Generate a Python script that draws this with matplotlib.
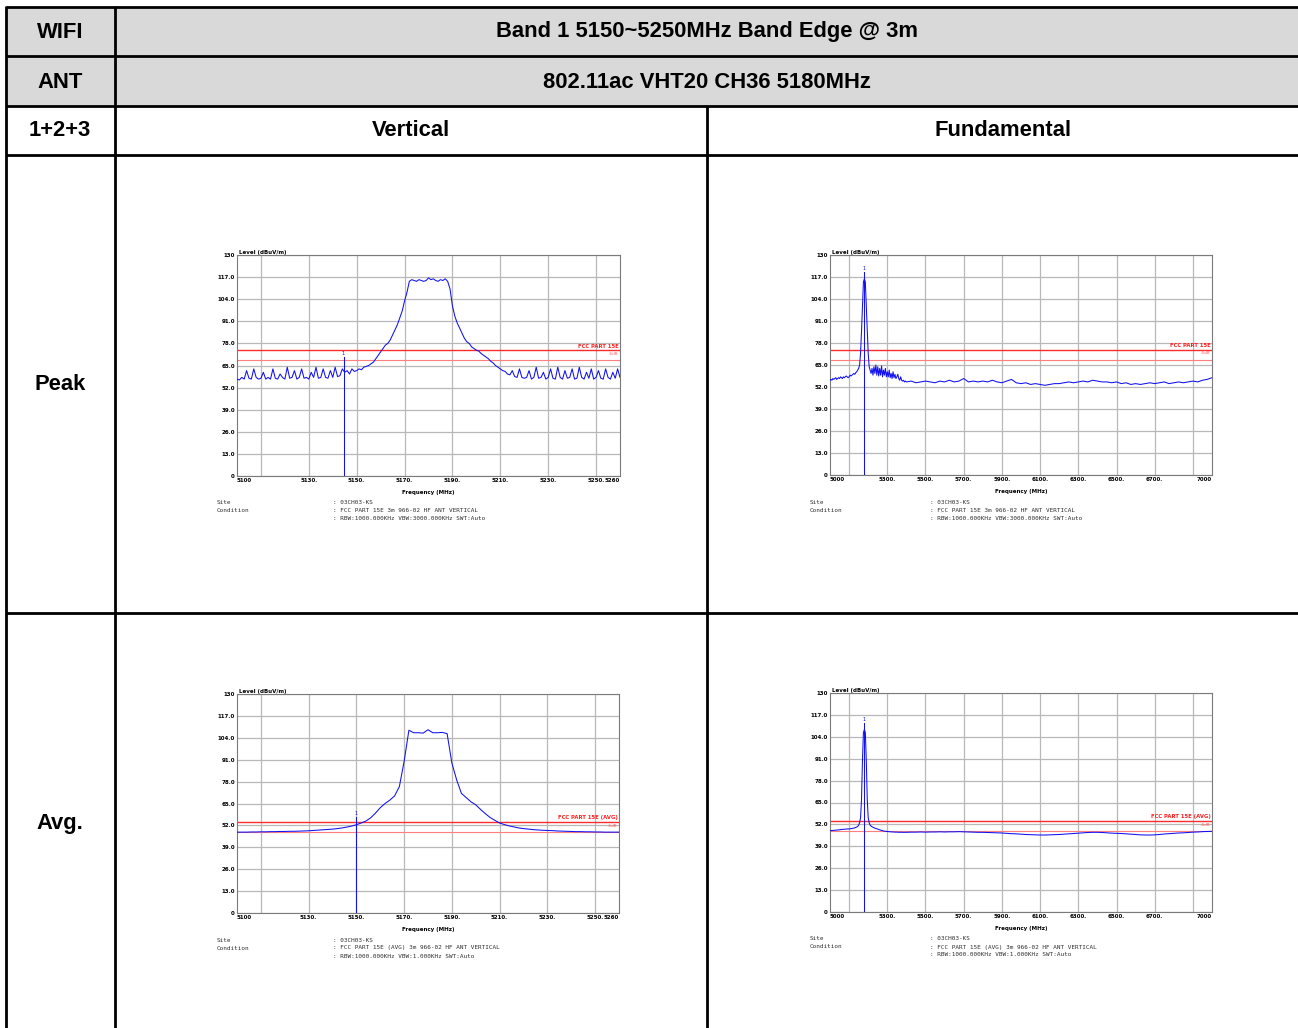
import numpy as np
import matplotlib
matplotlib.use("Agg")
import matplotlib.pyplot as plt

W, H = 1298, 1028

# ---------------- table text ----------------
title_row1 = ["WIFI", "Band 1 5150~5250MHz Band Edge @ 3m"]
title_row2 = ["ANT", "802.11ac VHT20 CH36 5180MHz"]
title_row3 = ["1+2+3", "Vertical", "Fundamental"]
row_labels = ["Peak", "Avg."]

# ---------------- axis definitions ----------------
y_ticks = [0, 13, 26, 39, 52, 65, 78, 91, 104, 117, 130]
y_labels = ["0", "13.0", "26.0", "39.0", "52.0", "65.0", "78.0", "91.0", "104.0", "117.0", "130"]

edge_xlim = [5100, 5260]
edge_grid = [5110, 5130, 5150, 5170, 5190, 5210, 5230, 5250]
edge_ticks = [5100, 5130, 5150, 5170, 5190, 5210, 5230, 5250, 5260]
edge_labels = ["5100", "5130.", "5150.", "5170.", "5190.", "5210.", "5230.", "5250.", "5260"]

fund_xlim = [5000, 7000]
fund_grid = [5100, 5300, 5500, 5700, 5900, 6100, 6300, 6500, 6700, 6900]
fund_ticks = [5000, 5300, 5500, 5700, 5900, 6100, 6300, 6500, 6700, 7000]
fund_labels = ["5000", "5300.", "5500.", "5700.", "5900.", "6100.", "6300.", "6500.", "6700.", "7000"]

# limit lines (dBuV/m)
peak_limit, peak_margin = 74, 68
avg_limit, avg_margin = 54, 48

# ---------------- traces ----------------
# Peak, band edge, 1 MHz step 5100..5260
edge_peak_f = np.arange(5100, 5261, 1)
edge_peak_v = [
    57, 56.5, 58, 57, 62, 57.5, 57, 63, 58, 57,
    57.5, 61, 57, 58, 57, 63, 57.5, 57, 60, 58,
    57, 64, 57.5, 58, 62, 57, 58, 63, 57.5, 58,
    57, 61, 58, 64, 57.5, 58, 63, 58, 57.5, 62,
    58, 64, 58.5, 59, 63,
    61, 62, 60, 63, 61.5,
    62, 63, 62.5, 64, 64.5, 65, 66, 67, 69, 71,
    73, 75, 77, 78, 80, 83, 86, 89, 93, 97,
    103, 108, 114.5, 115.5, 115, 114.5, 115.5, 115, 114.5, 115,
    116.5, 115.5, 116, 115, 114.5, 115.5, 115, 116, 114.5, 110,
    100, 94, 90, 87, 84, 81, 79, 78, 76, 75,
    74, 73.5, 72, 71, 70, 69, 67.5, 66.5, 65, 64,
    63, 62, 61.5, 60, 59.5, 62, 58.5, 58, 63, 58,
    57.5, 58, 62, 57, 58, 64, 57.5, 58, 61, 57,
    58, 63, 57.5, 57, 64, 58, 57, 62, 57.5, 58,
    63, 57, 57.5, 64, 58, 57, 61, 57.5, 63, 57,
    58, 62, 57.5, 57, 63, 58, 57, 61, 57.5, 63, 58,
]
edge_peak_marker = [5144.5, 70]

# Peak, fundamental: 5 MHz step 5000..5395 then 25 MHz step 5400..7000
fund_peak_f = np.concatenate([np.arange(5000, 5400, 5), np.arange(5400, 7001, 25)])
fund_peak_v = [
    56, 56.5, 56, 57, 56.5, 57, 57.5, 56.5, 57, 57.5, 57, 58, 57.5, 57, 58, 57.5, 58, 58.5, 58, 57.5,
    58, 59, 58.5, 59, 59.5, 60, 59.5, 60.5, 61, 62,
    63, 65, 72, 85, 100, 114, 116, 114, 100, 85,
    72, 64, 62, 60, 63, 59, 64, 60, 65, 59,
    64, 58.5, 63, 59, 64.5, 58, 62, 59, 63, 58,
    61, 58, 62, 57.5, 60, 57, 61, 57.5, 59.5, 57,
    58, 59.5, 57, 56, 58, 56, 55.5, 56, 55, 55.5,
    55, 55.5, 54.5, 55, 55.5, 55, 54.5, 55.5,
    55, 56, 55, 55.5, 57, 55, 55.5, 55,
    55.5, 55, 56, 55, 54.5, 55.5, 56.5, 54.5,
    54, 54.5, 53.5, 54, 53.5, 53, 53.5, 54,
    54, 54.5, 55, 54.5, 55, 55.5, 55, 56,
    55.5, 55, 55, 54.5, 55, 54, 54.5, 53.5,
    54, 53.5, 54, 54.5, 54, 54.5, 55, 54,
    54.5, 55, 54.5, 55, 55.5, 55, 56, 56.5,
    57.5,
]
fund_peak_marker = [5180, 120]

# Average, band edge, 2 MHz step 5100..5260
edge_avg_f = np.arange(5100, 5261, 2)
edge_avg_v = [
    48.0, 48.0, 48.0, 48.1, 48.1, 48.2, 48.2, 48.3, 48.3, 48.4,
    48.4, 48.5, 48.5, 48.6, 48.7, 48.8, 49.0, 49.2, 49.4, 49.6,
    49.8, 50.1, 50.5, 51.0, 51.6, 52.4, 53.4, 54.6, 56.5, 59.3,
    62.5, 65.0, 67.0, 69.5, 75.0, 90.0, 108.5, 107.0, 107.0, 106.8,
    108.8, 107.0, 107.0, 107.2, 106.5, 89.0, 79.0, 71.0, 68.5, 66.0,
    64.2, 61.5, 59.0, 56.7, 55.0, 53.4, 52.5, 51.7, 51.1, 50.5,
    50.1, 49.8, 49.5, 49.3, 49.1, 49.0, 48.9, 48.7, 48.6, 48.5,
    48.4, 48.3, 48.3, 48.2, 48.2, 48.1, 48.1, 48.0, 48.0, 48.0, 48.0,
]
edge_avg_marker = [5150, 57]

# Average, fundamental
fund_avg_f = np.concatenate([np.arange(5000, 5400, 5), np.arange(5400, 7001, 25)])
fund_avg_v = [
    48.3, 48.3, 48.4, 48.4, 48.5, 48.5, 48.6, 48.6, 48.7, 48.8, 48.8, 48.9, 49.0, 49.0, 49.1, 49.1, 49.2, 49.2, 49.3, 49.3,
    49.3, 49.4, 49.5, 49.6, 49.7, 49.8, 50.0, 50.2, 50.5, 50.8,
    51.5, 53, 56, 67, 90, 106.5, 108.3, 106.5, 90, 67,
    56, 53, 51.5, 51.0, 50.6, 50.3, 50.0, 49.8, 49.6, 49.4,
    49.2, 49.0, 48.8, 48.6, 48.4, 48.3, 48.1, 48.0, 47.9, 47.8,
    47.8, 47.7, 47.7, 47.6, 47.6, 47.5, 47.5, 47.5, 47.4, 47.4,
    47.4, 47.4, 47.3, 47.3, 47.4, 47.3, 47.3, 47.3, 47.3, 47.3,
    47.3, 47.4, 47.4, 47.5, 47.4, 47.5, 47.5, 47.6,
    47.5, 47.6, 47.6, 47.7, 47.6, 47.5, 47.4, 47.3,
    47.3, 47.2, 47.1, 47.0, 46.9, 46.7, 46.5, 46.4,
    46.2, 46.0, 45.9, 45.8, 45.7, 45.7, 45.8, 45.9,
    46.0, 46.2, 46.4, 46.6, 46.8, 47.0, 47.2, 47.3,
    47.3, 47.2, 47.0, 46.8, 46.7, 46.6, 46.4, 46.2,
    46.0, 45.8, 45.7, 45.7, 45.8, 46.0, 46.3, 46.5,
    46.7, 46.9, 47.0, 47.2, 47.4, 47.5, 47.7, 47.8,
    47.9,
]
fund_avg_marker = [5180, 112]

site_name = "03CH03-KS"
cond_peak = "FCC PART 15E 3m 966-02 HF ANT VERTICAL"
cond_avg = "FCC PART 15E (AVG) 3m 966-02 HF ANT VERTICAL"
bw_peak = "RBW:1000.000KHz VBW:3000.000KHz SWT:Auto"
bw_avg = "RBW:1000.000KHz VBW:1.000KHz SWT:Auto"

# ---------------- figure ----------------
fig = plt.figure(figsize=(W / 100, H / 100), dpi=100)
bg = fig.add_axes([0, 0, 1, 1])
bg.set_xlim(0, W)
bg.set_ylim(H, 0)
bg.axis("off")

gray = "#D9D9D9"
bg.add_patch(plt.Rectangle((6, 7), W - 6, 99, facecolor=gray, edgecolor="none", zorder=0))
lw_tab = 2.0
for y in [7, 56, 106, 155, 613]:
    bg.plot([6, W], [y, y], color="black", lw=lw_tab, solid_capstyle="butt", zorder=2)
bg.plot([6, 6], [6, H], color="black", lw=lw_tab, solid_capstyle="butt", zorder=2)
bg.plot([115, 115], [6, H], color="black", lw=lw_tab, solid_capstyle="butt", zorder=2)
bg.plot([707, 707], [106, H], color="black", lw=lw_tab, solid_capstyle="butt", zorder=2)

hfont = dict(family="Liberation Sans", weight="bold", fontsize=15.8, ha="center", va="center")
bg.text(60, 32, title_row1[0], **hfont)
bg.text(707, 32, title_row1[1], **hfont)
bg.text(60, 82, title_row2[0], **hfont)
bg.text(707, 82, title_row2[1], **hfont)
bg.text(60, 131, title_row3[0], **hfont)
bg.text(411, 131, title_row3[1], **hfont)
bg.text(1003, 131, title_row3[2], **hfont)
bg.text(60, 385, row_labels[0], **hfont)
bg.text(60, 824, row_labels[1], **hfont)


def px_axes(l, t, r, b):
    return fig.add_axes([l / W, 1 - b / H, (r - l) / W, (b - t) / H])


tick_font = dict(family="DejaVu Sans", weight="bold", fontsize=4.0)
trace_color = "#1010F0"


def spectrum(box, f, v, xlim, xgrid, xticks, xlabels, lim, margin, lim_text,
             marker, cond, bw, info_x):
    l, t, r, b = box
    ax = px_axes(l, t, r, b)
    ax.set_xlim(*xlim)
    ax.set_ylim(0, 130)
    for s in ax.spines.values():
        s.set_color("#7a7a7a")
        s.set_linewidth(0.8)
    ax.set_yticks(y_ticks)
    ax.set_yticklabels(y_labels, **tick_font)
    ax.set_xticks(xticks)
    ax.set_xticklabels(xlabels, **tick_font)
    lbls = ax.get_xticklabels()
    lbls[0].set_ha("left")
    lbls[-1].set_ha("right")
    ax.xaxis.remove_overlapping_locs = False
    ax.set_xticks(xgrid, minor=True)
    ax.tick_params(which="both", length=0, pad=1.5)
    ax.xaxis.grid(True, which="minor", color="#b8b8b8", lw=0.9)
    ax.xaxis.grid(False, which="major")
    ax.yaxis.grid(True, which="major", color="#b8b8b8", lw=0.9)
    ax.set_axisbelow(True)
    ax.axhline(lim, color="#ff2a2a", lw=1.0, zorder=2)
    ax.axhline(margin, color="#ff7f7f", lw=0.8, zorder=2)
    ax.plot(f, v, color=trace_color, lw=0.75, zorder=3)
    mx, mtop = marker
    ax.plot([mx, mx], [0, mtop], color=trace_color, lw=0.75, zorder=3)
    ax.text(mx, mtop + 0.5, "1", color=trace_color, fontsize=3.5, ha="center", va="bottom")
    ax.text(xlim[1] - (xlim[1] - xlim[0]) * 0.003, lim + 1.0, lim_text, color="#ff2020",
            fontsize=3.8, fontweight="bold", ha="right", va="bottom")
    ax.text(xlim[1] - (xlim[1] - xlim[0]) * 0.003, lim - 1.0, "-6dB", color="#ff6060",
            fontsize=3.0, ha="right", va="top")
    ax.text(0.005, 1.0, "Level (dBuV/m)", transform=ax.transAxes, fontsize=4.0,
            fontweight="bold", ha="left", va="bottom")
    ax.text(0.5, -0.065, "Frequency (MHz)", transform=ax.transAxes, fontsize=4.0,
            fontweight="bold", ha="center", va="top")
    mono = dict(family="DejaVu Sans Mono", fontsize=4.3, color="#303030", va="center")
    y0 = b + 27
    bg.text(l - 20, y0, "Site", **mono)
    bg.text(l - 20, y0 + 8, "Condition", **mono)
    bg.text(info_x, y0, ": " + site_name, **mono)
    bg.text(info_x, y0 + 8, ": " + cond, **mono)
    bg.text(info_x, y0 + 16, ": " + bw, **mono)
    return ax


spectrum((237, 255, 620, 476), edge_peak_f, edge_peak_v, edge_xlim, edge_grid, edge_ticks,
         edge_labels, peak_limit, peak_margin, "FCC PART 15E", edge_peak_marker,
         cond_peak, bw_peak, 333)
spectrum((830, 255, 1212, 475), fund_peak_f, fund_peak_v, fund_xlim, fund_grid, fund_ticks,
         fund_labels, peak_limit, peak_margin, "FCC PART 15E", fund_peak_marker,
         cond_peak, bw_peak, 930)
spectrum((237, 694, 619, 913), edge_avg_f, edge_avg_v, edge_xlim, edge_grid, edge_ticks,
         edge_labels, avg_limit, avg_margin, "FCC PART 15E (AVG)", edge_avg_marker,
         cond_avg, bw_avg, 333)
spectrum((830, 693, 1212, 912), fund_avg_f, fund_avg_v, fund_xlim, fund_grid, fund_ticks,
         fund_labels, avg_limit, avg_margin, "FCC PART 15E (AVG)", fund_avg_marker,
         cond_avg, bw_avg, 930)

fig.savefig("out.png", dpi=100, facecolor="white")
